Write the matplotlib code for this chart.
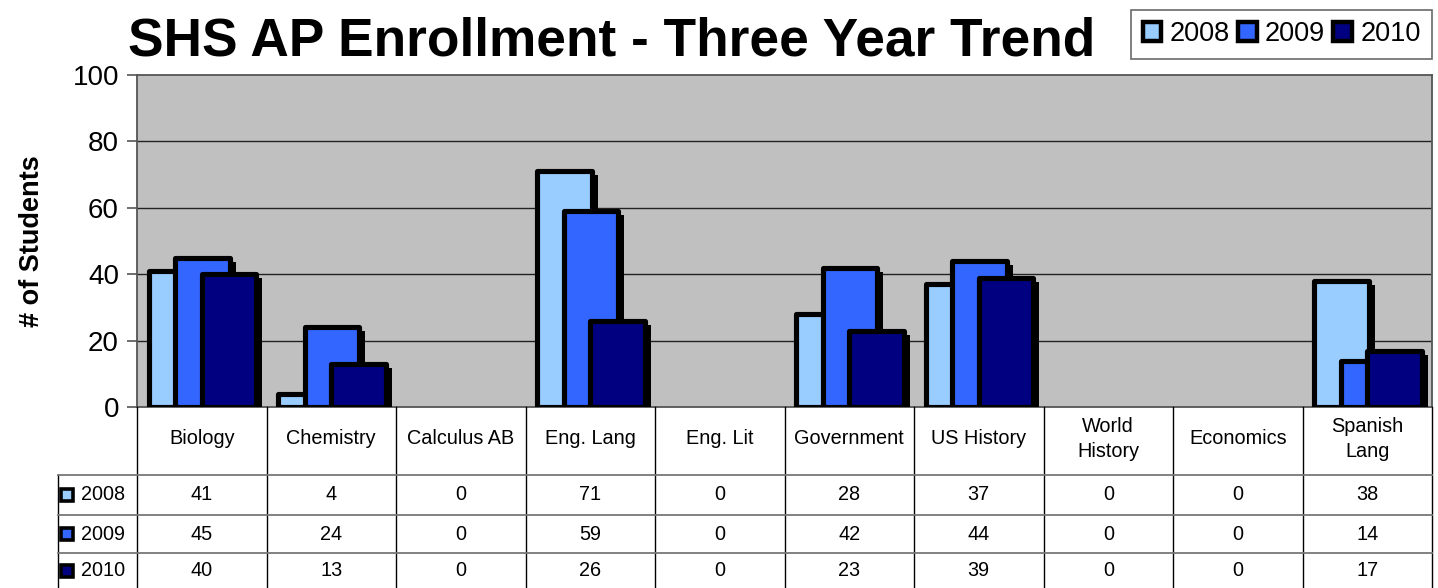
import matplotlib
matplotlib.use("Agg")
import matplotlib.pyplot as plt
import matplotlib.patheffects as pe
from matplotlib.patches import Patch
from matplotlib.transforms import blended_transform_factory

plt.rcParams["font.family"] = ["Liberation Sans", "DejaVu Sans"]

# data
subjects = ["Biology", "Chemistry", "Calculus AB", "Eng. Lang", "Eng. Lit",
            "Government", "US History", "World\nHistory", "Economics", "Spanish\nLang"]
years = ["2008", "2009", "2010"]
enroll_2008 = [41, 4, 0, 71, 0, 28, 37, 0, 0, 38]
enroll_2009 = [45, 24, 0, 59, 0, 42, 44, 0, 0, 14]
enroll_2010 = [40, 13, 0, 26, 0, 23, 39, 0, 0, 17]
colors = ["#99CCFF", "#3366FF", "#000080"]

series = [enroll_2008, enroll_2009, enroll_2010]

W, H = 1438, 588
fig = plt.figure(figsize=(W / 100, H / 100), dpi=100)
# plot area in pixels: x 137..1432, y 75..407
ax = fig.add_axes([137 / W, 1 - 407 / H, (1432 - 137) / W, (407 - 75) / H])
ax.set_facecolor("#C0C0C0")

n = len(subjects)
bar_w = 0.42
offsets = [0.09, 0.295, 0.50]
shadow = [pe.SimplePatchShadow(offset=(4.5, -3), shadow_rgbFace="black", alpha=1.0), pe.Normal()]
for k, vals in enumerate(series):
    lefts = [i + offsets[k] for i in range(n)]
    bars = ax.bar(lefts, vals, width=bar_w, align="edge", color=colors[k],
                  edgecolor="black", linewidth=3.7, zorder=3 + k)
    for b, v in zip(bars, vals):
        b.set_joinstyle("round")
        b.set_path_effects(shadow)
        if v == 0:
            b.set_visible(False)

ax.set_xlim(0, n)
ax.set_ylim(0, 100)
ax.set_yticks([0, 20, 40, 60, 80, 100])
ax.set_xticks([])
ax.tick_params(axis="y", labelsize=20, length=7, width=1.2, color="#555555", pad=6)
for y in [20, 40, 60, 80]:
    ax.axhline(y, color="#222222", linewidth=1.0, zorder=1)
for s in ax.spines.values():
    s.set_color("#555555")
    s.set_linewidth(1.3)

ax.set_ylabel("# of Students", fontsize=19.5, fontweight="bold", labelpad=20)

fig.text(612 / W, 1 - 41 / H, "SHS AP Enrollment - Three Year Trend",
         fontsize=38.3, fontweight="bold", ha="center", va="center")

# legend
handles = [Patch(facecolor=c, edgecolor="black", linewidth=3.2, label=y) for c, y in zip(colors, years)]
leg = fig.legend(handles=handles, loc="upper right", bbox_to_anchor=(1432 / W, 1 - 10 / H),
                 ncol=3, fontsize=19.5, frameon=True, fancybox=False, handlelength=0.7,
                 handleheight=0.7, handletextpad=0.3, columnspacing=0.3,
                 borderpad=0.42, borderaxespad=0)
leg.get_frame().set_edgecolor("#444444")
leg.get_frame().set_linewidth(1.2)

# data table below the plot
tr = blended_transform_factory(ax.transData, ax.transAxes)
def fy(py):
    return (407 - py) / (407 - 75)

row_tops = [475, 515, 553]
row_centers = [495, 534, 571]
x_hdr_left = (58 - 137) / 129.5
line_kw = dict(transform=tr, clip_on=False, zorder=10)

for i in range(n + 1):
    ax.plot([i, i], [fy(407), fy(588)], color="black", linewidth=1.0, **line_kw)
ax.plot([x_hdr_left, x_hdr_left], [fy(475), fy(588)], color="black", linewidth=1.0, **line_kw)
for py in row_tops:
    ax.plot([x_hdr_left, n], [fy(py), fy(py)], color="#777777", linewidth=1.3, **line_kw)

for i, name in enumerate(subjects):
    ax.text(i + 0.5, fy(439), name, transform=tr, ha="center", va="center",
            fontsize=14.3, linespacing=1.45)

for k, vals in enumerate(series):
    yc = fy(row_centers[k])
    ax.plot([(67 - 137) / 129.5], [yc], marker="s", markersize=8.5,
            markerfacecolor=colors[k], markeredgecolor="black", markeredgewidth=2.6,
            transform=tr, clip_on=False, zorder=11)
    ax.text((81 - 137) / 129.5, yc, years[k], transform=tr, ha="left", va="center", fontsize=14.3)
    for i, v in enumerate(vals):
        ax.text(i + 0.5, yc, str(v), transform=tr, ha="center", va="center", fontsize=14.3)

fig.savefig("out.png", dpi=100)
